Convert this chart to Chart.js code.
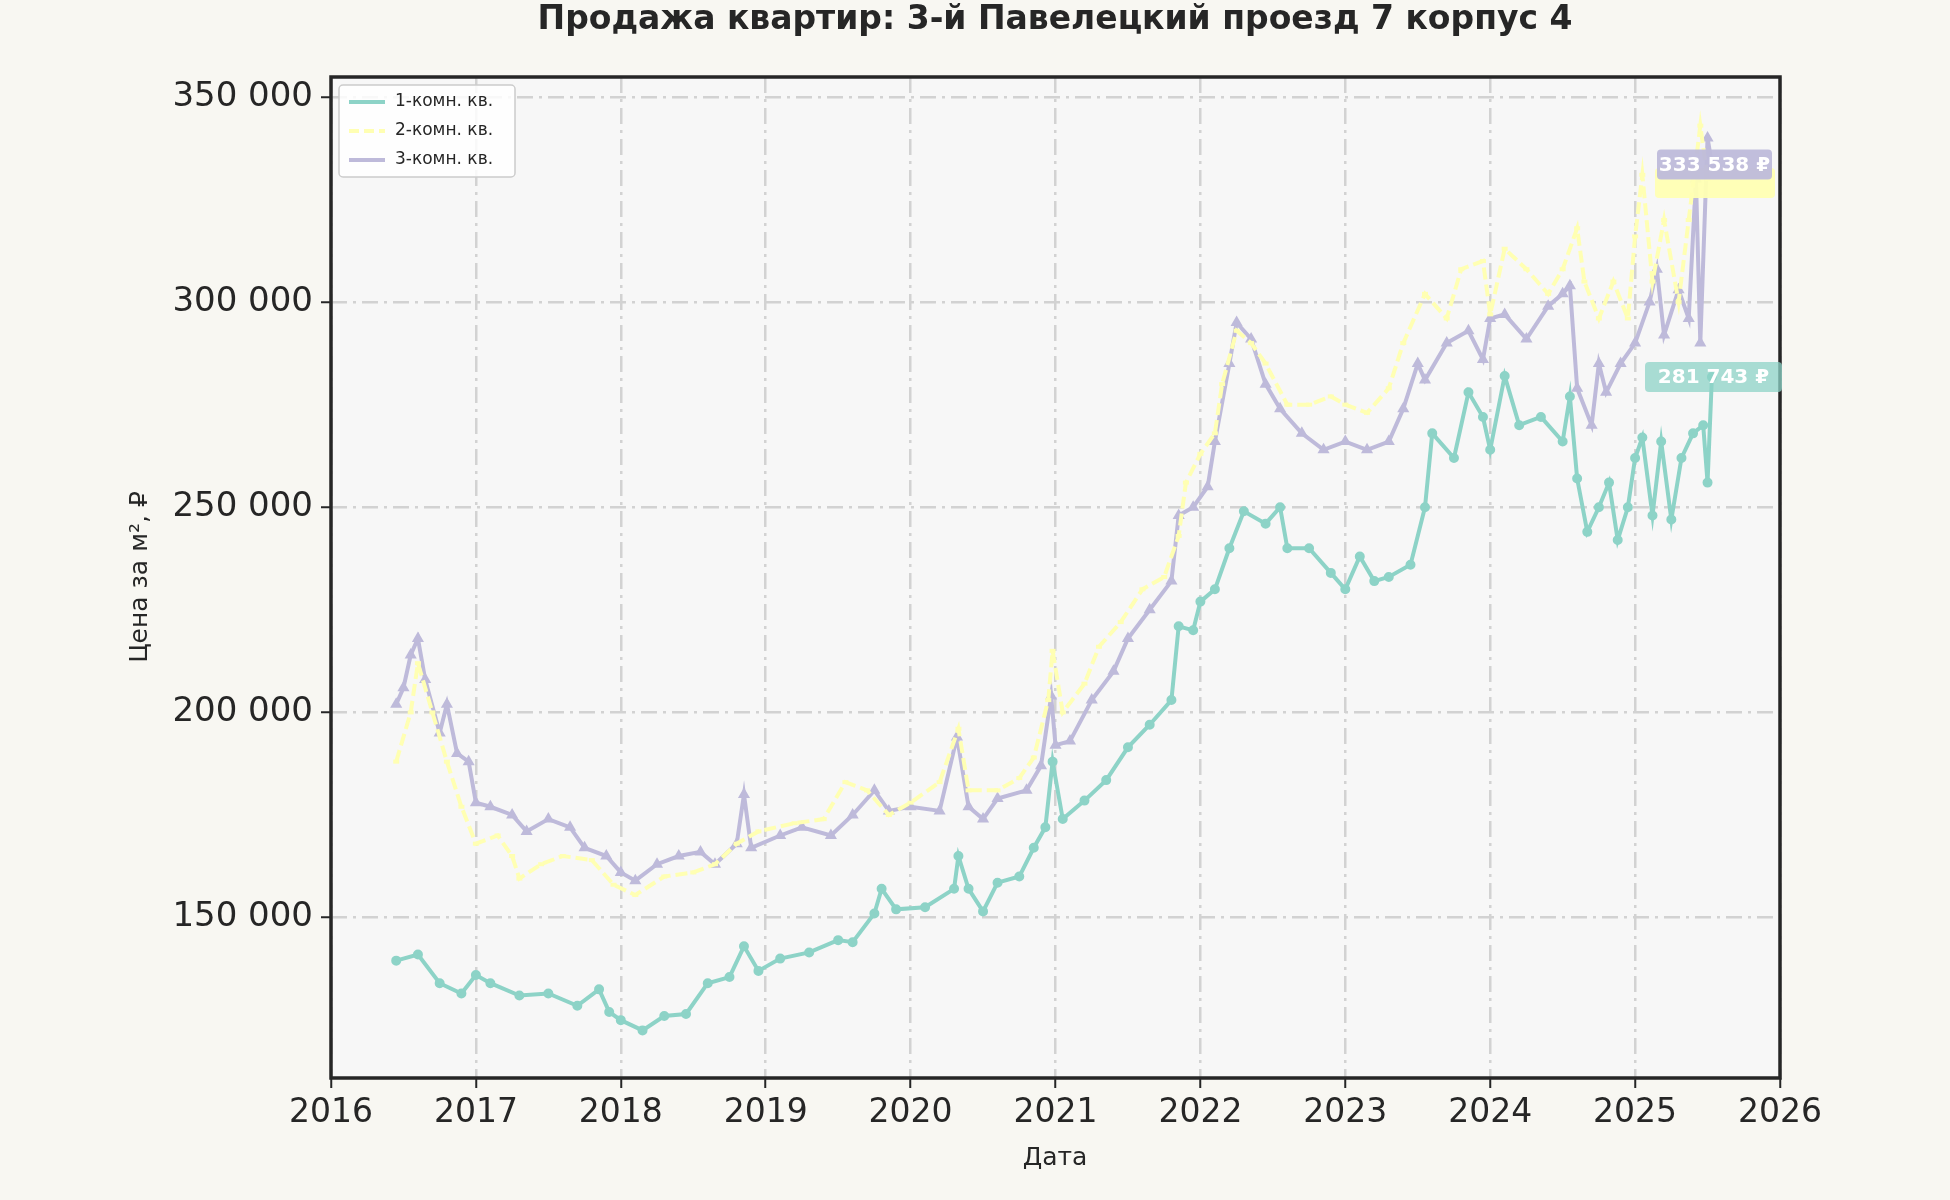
<!DOCTYPE html>
<html>
<head>
<meta charset="utf-8">
<script src="https://cdn.jsdelivr.net/npm/chart.js@4/dist/chart.umd.min.js"></script>
<style>
  body { margin: 0; background: #f8f7f2; }
  canvas { display: block; }
</style>
</head>
<body>
<canvas id="c" width="1950" height="1200"></canvas>
<script>
// 1-комн. кв.
const dates1 = [2016.45,2016.6,2016.75,2016.9,2017.0,2017.1,2017.3,2017.5,2017.7,2017.85,2017.92,2018.0,2018.15,2018.3,2018.45,2018.6,2018.75,2018.85,2018.95,2019.1,2019.3,2019.5,2019.6,2019.75,2019.8,2019.9,2020.1,2020.3,2020.33,2020.4,2020.5,2020.6,2020.75,2020.85,2020.93,2020.98,2021.05,2021.2,2021.35,2021.5,2021.65,2021.8,2021.85,2021.95,2022.0,2022.1,2022.2,2022.3,2022.45,2022.55,2022.6,2022.75,2022.9,2023.0,2023.1,2023.2,2023.3,2023.45,2023.55,2023.6,2023.75,2023.85,2023.95,2024.0,2024.1,2024.2,2024.35,2024.5,2024.55,2024.6,2024.67,2024.75,2024.82,2024.88,2024.95,2025.0,2025.05,2025.12,2025.18,2025.25,2025.32,2025.4,2025.47,2025.5,2025.53];
const room1 = [139500,141000,134000,131500,136000,134000,131000,131500,128500,132500,127000,125000,122500,126000,126500,134000,135500,143000,137000,140000,141500,144500,144000,151000,157000,152000,152500,157000,165000,157000,151500,158500,160000,167000,172000,188000,174000,178500,183500,191500,197000,203000,221000,220000,227000,230000,240000,249000,246000,250000,240000,240000,234000,230000,238000,232000,233000,236000,250000,268000,262000,278000,272000,264000,282000,270000,272000,266000,277000,257000,244000,250000,256000,242000,250000,262000,267000,248000,266000,247000,262000,268000,270000,256000,281743];

// 2-комн. кв.
const dates2 = [2016.45,2016.55,2016.6,2016.7,2016.8,2016.9,2017.0,2017.15,2017.25,2017.3,2017.45,2017.6,2017.8,2017.95,2018.1,2018.3,2018.5,2018.65,2018.8,2018.95,2019.2,2019.4,2019.55,2019.7,2019.85,2020.0,2020.2,2020.33,2020.4,2020.6,2020.75,2020.85,2020.95,2020.98,2021.05,2021.2,2021.3,2021.45,2021.6,2021.75,2021.85,2021.9,2022.0,2022.1,2022.15,2022.25,2022.35,2022.45,2022.6,2022.75,2022.9,2023.0,2023.15,2023.3,2023.4,2023.55,2023.7,2023.8,2023.95,2024.0,2024.1,2024.25,2024.4,2024.5,2024.6,2024.65,2024.75,2024.85,2024.95,2025.0,2025.05,2025.12,2025.2,2025.3,2025.37,2025.45,2025.5];
const room2 = [188000,200000,212000,200000,188000,177000,168000,170000,165000,159500,163000,165000,164000,158000,155500,160000,161000,163000,168000,171000,173000,174000,183000,181000,175000,178000,183000,196000,181000,181000,184000,189000,203000,215000,200000,207000,216000,222000,230000,233000,243000,256000,263000,268000,280000,293000,290000,285000,275000,275000,277000,275000,273000,279000,290000,302000,296000,308000,310000,297000,313000,308000,302000,308000,318000,305000,296000,305000,296000,316000,331000,305000,320000,300000,320000,343000,330000];

// 3-комн. кв.
const dates3 = [2016.45,2016.5,2016.55,2016.6,2016.65,2016.75,2016.8,2016.87,2016.95,2017.0,2017.1,2017.25,2017.35,2017.5,2017.65,2017.75,2017.9,2018.0,2018.1,2018.25,2018.4,2018.55,2018.65,2018.8,2018.85,2018.9,2019.1,2019.25,2019.45,2019.6,2019.75,2019.85,2020.0,2020.2,2020.32,2020.4,2020.5,2020.6,2020.8,2020.9,2020.97,2021.0,2021.1,2021.25,2021.4,2021.5,2021.65,2021.8,2021.85,2021.95,2022.05,2022.1,2022.2,2022.25,2022.35,2022.45,2022.55,2022.7,2022.85,2023.0,2023.15,2023.3,2023.4,2023.5,2023.55,2023.7,2023.85,2023.95,2024.0,2024.1,2024.25,2024.4,2024.5,2024.55,2024.6,2024.7,2024.75,2024.8,2024.9,2025.0,2025.1,2025.15,2025.2,2025.3,2025.37,2025.42,2025.45,2025.5,2025.53];
const room3 = [202000,206000,214000,218000,208000,195000,202000,190000,188000,178000,177000,175000,171000,174000,172000,167000,165000,161000,159000,163000,165000,166000,163000,168000,180000,167000,170000,172000,170000,175000,181000,176000,177000,176000,194000,177000,174000,179000,181000,187000,204000,192000,193000,203000,210000,218000,225000,232000,248000,250000,255000,266000,285000,295000,291000,280000,274000,268000,264000,266000,264000,266000,274000,285000,281000,290000,293000,286000,296000,297000,291000,299000,302000,304000,279000,270000,285000,278000,285000,290000,300000,308000,292000,303000,296000,330000,290000,340000,333538];

const yTicks = [150000, 200000, 250000, 300000, 350000];
const labels = ['1-комн. кв.', '2-комн. кв.', '3-комн. кв.'];
const colors = ['#8dd3c7', '#ffffb3', '#bebada'];

function fmt(n) {
    return Math.round(n).toString().replace(/\B(?=(\d{3})+(?!\d))/g, ' ');
}
function pts(xs, ys) {
    return xs.map((x, i) => ({ x: x, y: ys[i] }));
}

const FONT = 'DejaVu Sans';

const decor = {
    id: 'decor',
    beforeDraw(chart) {
        const { ctx, chartArea: a } = chart;
        ctx.save();
        ctx.fillStyle = '#f7f7f7';
        ctx.fillRect(a.left, a.top, a.right - a.left, a.bottom - a.top);
        ctx.restore();
    },
    afterDraw(chart) {
        const { ctx, chartArea: a } = chart;
        ctx.save();
        // title
        ctx.fillStyle = '#262626';
        ctx.textAlign = 'center';
        ctx.textBaseline = 'middle';
        ctx.font = 'bold 33px ' + FONT;
        ctx.fillText('Продажа квартир: 3-й Павелецкий проезд 7 корпус 4', 1055, 20);
        ctx.font = '25px ' + FONT;
        ctx.fillText('Дата', 1055, 1158);
        ctx.translate(140, 577);
        ctx.rotate(-Math.PI / 2);
        ctx.fillText('Цена за м², ₽', 0, 0);
        ctx.restore();

        // border
        ctx.save();
        ctx.strokeStyle = '#262626';
        ctx.lineWidth = 3.5;
        ctx.strokeRect(a.left, a.top, a.right - a.left, a.bottom - a.top);

        // legend
        ctx.fillStyle = 'rgba(255,255,255,0.85)';
        ctx.strokeStyle = '#cccccc';
        ctx.lineWidth = 1.5;
        ctx.beginPath();
        ctx.roundRect(a.left + 8, a.top + 8, 176, 92, 4);
        ctx.fill();
        ctx.stroke();
        ctx.font = '17px ' + FONT;
        ctx.textAlign = 'left';
        ctx.textBaseline = 'middle';
        labels.forEach((l, i) => {
            const y = a.top + 25 + i * 29;
            ctx.strokeStyle = colors[i];
            ctx.lineWidth = 4;
            if (i === 1) ctx.setLineDash([10, 5]);
            ctx.beginPath();
            ctx.moveTo(a.left + 18, y);
            ctx.lineTo(a.left + 54, y);
            ctx.stroke();
            ctx.setLineDash([]);
            ctx.fillStyle = '#262626';
            ctx.fillText(l, a.left + 64, y);
        });

        // last value labels
        const ys = chart.scales.y;
        const box = (val, col, text, x1, x2) => {
            const y = ys.getPixelForValue(val);
            ctx.fillStyle = col;
            ctx.beginPath();
            ctx.roundRect(x1, y - 15, x2 - x1, 30, 4);
            ctx.fill();
            if (text) {
                ctx.fillStyle = '#ffffff';
                ctx.font = 'bold 20px ' + FONT;
                ctx.textAlign = 'center';
                ctx.fillText(text, (x1 + x2) / 2, y + 1);
            }
        };
        box(329000, 'rgba(255,255,179,0.95)', '', 1655, 1775);
        box(333538, 'rgba(190,186,218,0.95)', fmt(room3[room3.length - 1]) + ' ₽', 1657, 1772);
        box(281743, 'rgba(141,211,199,0.75)', fmt(room1[room1.length - 1]) + ' ₽', 1645, 1782);
        ctx.restore();
    }
};

function ds(i, data, style) {
    return {
        label: labels[i],
        data: data,
        borderColor: colors[i],
        backgroundColor: colors[i],
        borderWidth: 4,
        pointRadius: 3,
        pointStyle: style,
        tension: 0,
        borderDash: i === 1 ? [12, 5] : []
    };
}

const gridOpts = { color: '#d2d2d2', lineWidth: 2.5, tickLength: 10, tickColor: '#262626', tickWidth: 2 };

new Chart(document.getElementById('c').getContext('2d'), {
    type: 'line',
    data: {
        datasets: [
            ds(1, pts(dates2, room2), 'line'),
            ds(2, pts(dates3, room3), 'triangle'),
            ds(0, pts(dates1, room1), 'circle')
        ]
    },
    options: {
        responsive: false,
        animation: false,
        layout: { padding: { top: 77, right: 170, left: 0, bottom: 0 } },
        plugins: { legend: { display: false }, tooltip: { enabled: false } },
        scales: {
            x: {
                type: 'linear',
                min: 2016, max: 2026,
                afterFit(s) { s.height = 122; },
                ticks: {
                    stepSize: 1, color: '#262626', padding: 6,
                    font: { family: FONT, size: 33 },
                    callback: v => String(v)
                },
                grid: gridOpts,
                border: { display: false, dash: [16, 6, 3, 6] }
            },
            y: {
                min: 110900, max: 354850,
                afterFit(s) { s.width = 331; },
                afterBuildTicks(s) { s.ticks = yTicks.map(v => ({ value: v })); },
                ticks: {
                    color: '#262626', padding: 8,
                    font: { family: FONT, size: 34 },
                    callback: v => fmt(v)
                },
                grid: gridOpts,
                border: { display: false, dash: [16, 6, 3, 6] }
            }
        }
    },
    plugins: [decor]
});
</script>
</body>
</html>
